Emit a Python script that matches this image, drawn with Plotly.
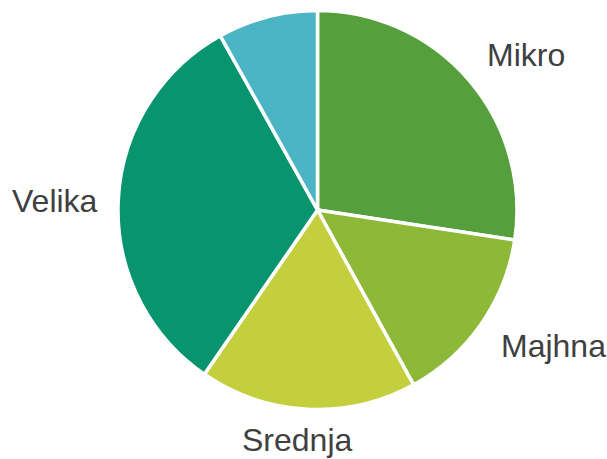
import plotly.graph_objects as go

categories = ["Mikro", "Majhna", "Srednja", "Velika", "Ostalo"]
values = [27.4, 14.6, 17.6, 32.3, 8.1]
colors = ["#55A03C", "#8DB838", "#C3CF3C", "#07946F", "#4BB5C5"]
shown_labels = ["Mikro", "Majhna", "Srednja", "Velika", ""]

W, H = 607, 459
label_pos = [(526, 55), (553, 346), (297, 440), (55, 201), None]

cx, cy, r = 317.5, 210, 199.5
dom_x = [(cx - r) / W, (cx + r) / W]
dom_y = [1 - (cy + r) / H, 1 - (cy - r) / H]

fig = go.Figure(go.Pie(
    labels=categories,
    values=values,
    sort=False,
    direction="clockwise",
    rotation=0,
    marker=dict(colors=colors, line=dict(color="white", width=3.5)),
    textinfo="none",
    showlegend=False,
    domain=dict(x=dom_x, y=dom_y),
))

for txt, pos in zip(shown_labels, label_pos):
    if not txt or pos is None:
        continue
    fig.add_annotation(
        text=txt, x=pos[0] / W, y=1 - pos[1] / H,
        xref="paper", yref="paper",
        xanchor="center", yanchor="middle", showarrow=False,
        font=dict(family="Liberation Sans, Arial, sans-serif", size=32, color="#404040"),
    )

fig.update_layout(
    width=W, height=H,
    margin=dict(l=0, r=0, t=0, b=0),
    paper_bgcolor="white", plot_bgcolor="white",
)

fig.write_html(
    "out.html",
    config={"displayModeBar": False},
    post_script="document.body.style.margin='0';document.body.style.overflow='hidden';",
)
